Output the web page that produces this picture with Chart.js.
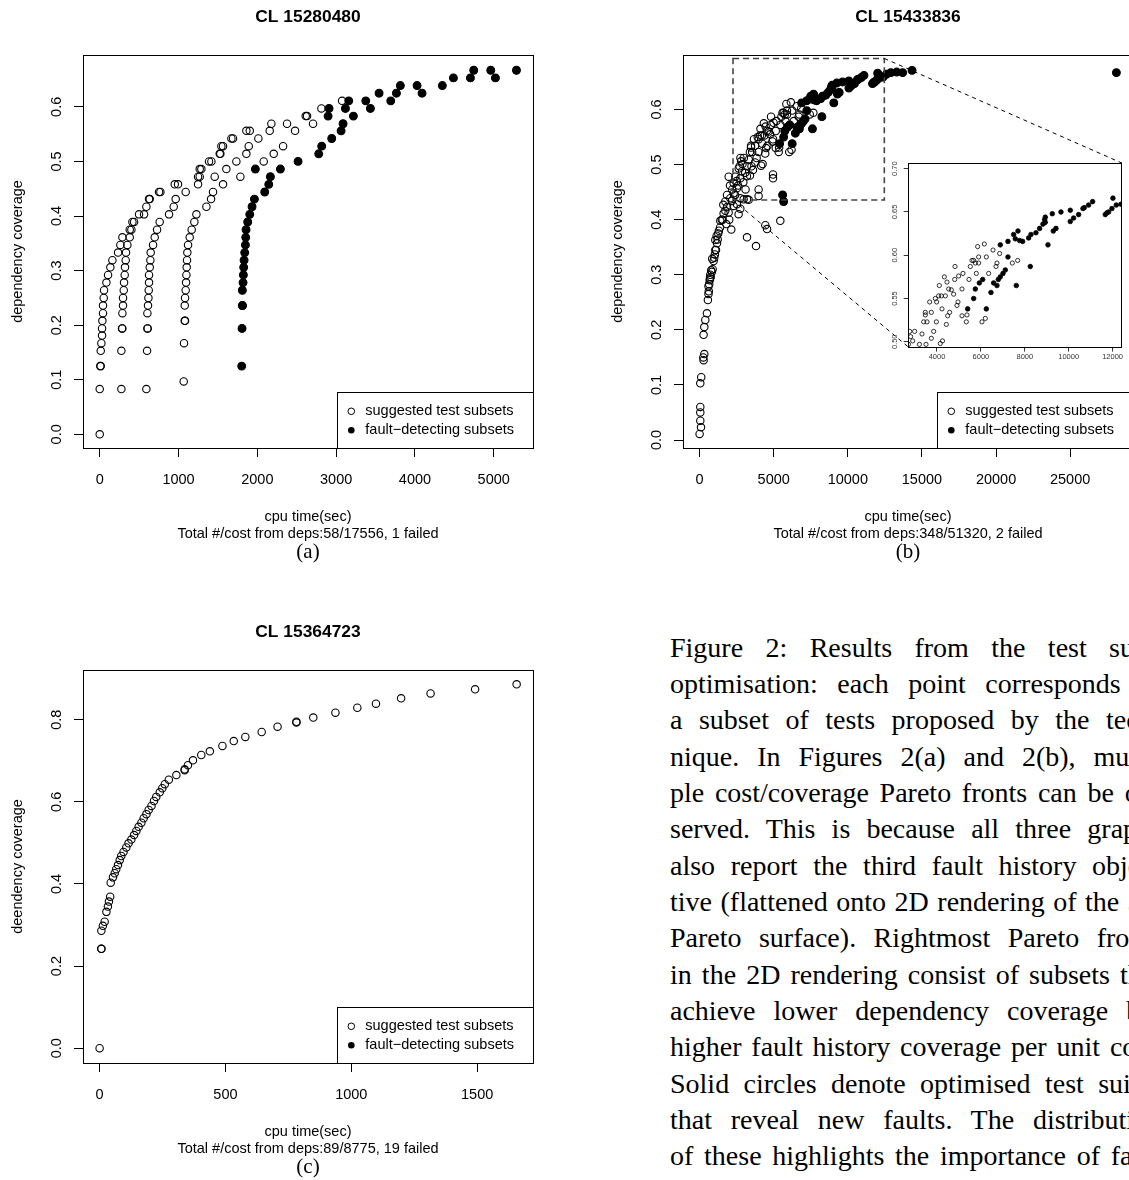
<!DOCTYPE html>
<html>
<head>
<meta charset="utf-8">
<script src="https://cdn.jsdelivr.net/npm/chart.js@4.4.1/dist/chart.umd.min.js"></script>
<style>
  html, body { margin: 0; padding: 0; background: #fff; overflow: hidden; }
  body { width: 1129px; height: 1180px; position: relative; }
  canvas { position: absolute; }
  .sub { position: absolute; font: 21px 'Liberation Serif', 'Times New Roman', serif; line-height: 21px; transform: translateX(-50%); color: #000; }
  #caption { position: absolute; left: 670px; top: 629.7px; width: 492px; font: 28px 'Liberation Serif', 'Times New Roman', serif; line-height: 36.33px; color: #000; }
  #caption div { text-align: justify; text-align-last: justify; }
</style>
</head>
<body>
<canvas id="chartA" width="545" height="546" style="left:0;top:0"></canvas>
<canvas id="chartB" width="545" height="546" style="left:600px;top:0"></canvas>
<canvas id="chartBInset" width="252" height="211" style="left:877.7px;top:157px"></canvas>
<canvas id="chartC" width="545" height="546" style="left:0;top:614.5px"></canvas>
<div class="sub" style="left:308px;top:541px">(a)</div>
<div class="sub" style="left:908px;top:541px">(b)</div>
<div class="sub" style="left:308px;top:1155.5px">(c)</div>
<div id="caption">
  <div>Figure 2: Results from the test suite</div>
  <div>optimisation: each point corresponds to</div>
  <div>a subset of tests proposed by the tech-</div>
  <div>nique. In Figures 2(a) and 2(b), multi-</div>
  <div>ple cost/coverage Pareto fronts can be ob-</div>
  <div>served. This is because all three graphs</div>
  <div>also report the third fault history objec-</div>
  <div>tive (flattened onto 2D rendering of the 3D</div>
  <div>Pareto surface). Rightmost Pareto fronts</div>
  <div>in the 2D rendering consist of subsets that</div>
  <div>achieve lower dependency coverage but</div>
  <div>higher fault history coverage per unit cost.</div>
  <div>Solid circles denote optimised test suites</div>
  <div>that reveal new faults. The distribution</div>
  <div>of these highlights the importance of fault</div>
</div>
<script>
const SANS = "'Liberation Sans', Arial, Helvetica, sans-serif";
const SERIES_LABELS = ['suggested test subsets', 'fault\u2212detecting subsets'];

// (a) CL 15280480  — [cpu time, dependency coverage]
const aOpen = [
  [0,0],[0,0.083],[275,0.083],[592,0.083],[1066,0.097],[8,0.125],[12,0.125],
  [13,0.153],[275,0.153],[601,0.153],[21,0.167],[1070,0.167],[30,0.181],
  [30,0.194],[283,0.194],[287,0.194],[605,0.194],[609,0.194],[34,0.208],[1079,0.208],[1083,0.208],
  [42,0.222],[288,0.222],[605,0.222],[42,0.236],[296,0.236],[613,0.236],[1079,0.236],
  [51,0.25],[296,0.25],[618,0.25],[1083,0.25],[55,0.264],[305,0.264],[622,0.264],[1091,0.264],
  [85,0.278],[309,0.278],[626,0.278],[1096,0.278],[106,0.292],[317,0.292],[626,0.292],[1100,0.292],
  [135,0.306],[321,0.306],[635,0.306],[1104,0.306],[161,0.319],[330,0.319],[643,0.319],[1108,0.319],
  [233,0.333],[334,0.333],[647,0.333],[1112,0.333],[262,0.347],[351,0.347],[677,0.347],[1121,0.347],
  [288,0.361],[381,0.361],[698,0.361],[1142,0.361],[381,0.375],[402,0.375],[728,0.375],[1167,0.375],
  [415,0.389],[436,0.389],[761,0.389],[1201,0.389],[499,0.403],[563,0.403],[880,0.403],[1227,0.403],
  [592,0.417],[939,0.417],[1354,0.417],[626,0.431],[635,0.431],[964,0.431],[1413,0.431],
  [753,0.444],[770,0.444],[1091,0.444],[1438,0.444],[952,0.458],[994,0.458],[1248,0.458],[1565,0.458],
  [1248,0.472],[1269,0.472],[1459,0.472],[1785,0.472],[1269,0.486],[1290,0.486],[1607,0.486],
  [1387,0.5],[1417,0.5],[1734,0.5],[2081,0.5],[1523,0.514],[1531,0.514],[1861,0.514],[2208,0.514],
  [1544,0.528],[1565,0.528],[1891,0.528],[2327,0.528],[1671,0.542],[1692,0.542],[2013,0.542],
  [1861,0.556],[1904,0.556],[2157,0.556],[2479,0.556],[2178,0.569],[2377,0.569],[2707,0.569],
  [2614,0.583],[2631,0.583],[2813,0.597],[3075,0.611]
];
const aFilled = [
  [1802,0.125],[1806,0.194],[1810,0.236],[1812,0.236],[1810,0.264],[1819,0.278],[1823,0.292],
  [1827,0.306],[1832,0.319],[1840,0.333],[1849,0.347],[1853,0.361],[1857,0.375],[1878,0.389],
  [1904,0.403],[1933,0.417],[1963,0.431],[2094,0.444],[2145,0.458],[2166,0.472],[1975,0.486],
  [2293,0.486],[2517,0.5],[2779,0.514],[2817,0.528],[2944,0.542],[3063,0.556],[3088,0.569],
  [2898,0.583],[3219,0.583],[2910,0.597],[3118,0.597],[3435,0.597],[3160,0.611],[3376,0.611],
  [3693,0.611],[3545,0.625],[3765,0.625],[4090,0.625],[3815,0.639],[4027,0.639],[4348,0.639],
  [4488,0.653],[4704,0.653],[5021,0.653],[4746,0.667],[4962,0.667],[5288,0.667]
];
const aXTicks = [0, 1000, 2000, 3000, 4000, 5000];
const aYTicks = [0, 0.1, 0.2, 0.3, 0.4, 0.5, 0.6];

// (b) CL 15433836
const bOpen = [
  [0,0.011],[94,0.023],[47,0.035],[47,0.05],[47,0.06],[47,0.103],[110,0.114],[250,0.150],[270,0.145],
  [317,0.156],[270,0.191],[317,0.205],[384,0.218],[495,0.230],[560,0.254],[600,0.265],[620,0.27],
  [600,0.279],[650,0.283],[680,0.29],[700,0.293],[720,0.300],[750,0.296],[780,0.308],[820,0.305],
  [880,0.31],[945,0.325],[990,0.331],[1030,0.337],[850,0.329],[1060,0.345],[1107,0.345],[1174,0.357],
  [1060,0.363],[1220,0.364],[1260,0.375],[1150,0.371],[1300,0.380],[1380,0.386],[1397,0.398],
  [1500,0.400],[1552,0.400],[1620,0.411],[1734,0.416],[1849,0.423],[1957,0.413],[1800,0.392],
  [2000,0.400],[2186,0.434],[2294,0.425],[2520,0.428],[2632,0.410],[2746,0.420],[3199,0.437],
  [2139,0.382],[3199,0.368],[3806,0.352],[4434,0.390],[4550,0.383],[5446,0.398],[3981,0.455],
  [3981,0.443],[4953,0.482],[4953,0.475],[1734,0.433],[2070,0.439],[2300,0.448],[2520,0.457],
  [2745,0.439],[2970,0.437],[3310,0.436],[1962,0.478],[2300,0.466],[2410,0.478],[2640,0.493],
  [2860,0.488],[3080,0.485],[3190,0.479],[2500,0.470],[2200,0.455],[1850,0.445],[2050,0.462],
  [2750,0.475],[2950,0.468],[3400,0.480],[3600,0.490],[1600,0.427],[2400,0.445],[2600,0.462],[3100,0.455],
  [2755,0.512],[2983,0.512],[2892,0.501],[3317,0.509],[3393,0.523],[3469,0.534],[3469,0.531],
  [3545,0.523],[3666,0.546],[3742,0.534],[3742,0.504],[3848,0.512],[3924,0.550],[3985,0.546],
  [4076,0.553],[3970,0.523],[4106,0.565],[4197,0.553],[4228,0.538],[4334,0.575],[4380,0.553],
  [4425,0.520],[4455,0.569],[4486,0.530],[4531,0.561],[4577,0.534],[4653,0.560],[4759,0.555],
  [4820,0.587],[4805,0.572],[4911,0.542],[4956,0.546],[4987,0.576],[5184,0.579],[5138,0.561],
  [5138,0.530],[5336,0.523],[5366,0.531],[5457,0.572],[5518,0.587],[5594,0.594],[5670,0.594],
  [5746,0.591],[5852,0.610],[5897,0.598],[5897,0.591],[5791,0.579],[6156,0.613],[6247,0.598],
  [6353,0.579],[6049,0.523],[6201,0.527],[6550,0.606],[6687,0.587],[6732,0.591],[6854,0.602],
  [7674,0.594],[7431,0.591],[3200,0.497],[3500,0.497],[4150,0.498],[4250,0.501],[2700,0.497],[2800,0.506]
];
const bFilled = [
  [5397,0.538],[5670,0.550],[5746,0.561],[5928,0.568],[6080,0.572],[6247,0.538],[6459,0.557],
  [6580,0.568],[6732,0.565],[6793,0.572],[6884,0.575],[7006,0.579],[7112,0.583],[6884,0.612],
  [7233,0.598],[7233,0.616],[7491,0.624],[7567,0.619],[7613,0.565],[7689,0.628],[7765,0.617],
  [7901,0.616],[8175,0.620],[8250,0.587],[8281,0.624],[8508,0.626],[8675,0.631],[8827,0.636],
  [8933,0.638],[8903,0.641],[8933,0.644],[9055,0.612],[9252,0.648],[9298,0.628],[9419,0.631],
  [9647,0.650],[10072,0.652],[10072,0.639],[10224,0.643],[10452,0.647],[10649,0.654],[10710,0.655],
  [10907,0.658],[11089,0.662],[11666,0.647],[11742,0.649],[11818,0.650],[11970,0.654],[12015,0.666],
  [12167,0.658],[12380,0.659],[5600,0.445],[5670,0.433],[12600,0.664],[12900,0.667],[13300,0.668],
  [13700,0.667],[14333,0.671],[28120,0.667]
];
const bXTicks = [0, 5000, 10000, 15000, 20000, 25000];
const bYTicks = [0, 0.1, 0.2, 0.3, 0.4, 0.5, 0.6];
const bInsetXTicks = [4000, 6000, 8000, 10000, 12000];
const bInsetYTicks = [0.5, 0.55, 0.6, 0.65, 0.7];
const bZoomX = [2254, 12463];
const bZoomY = [0.4356, 0.6927];

// (c) CL 15364723
const cOpen = [
  [0,0],[7,0.242],[7,0.242],[7,0.286],[13,0.298],[20,0.308],[27,0.332],[33,0.345],[37,0.357],
  [42,0.369],[44,0.403],[53,0.416],[60,0.426],[66,0.436],[73,0.446],[80,0.458],[86,0.468],[95,0.478],
  [106,0.489],[115,0.499],[126,0.508],[137,0.519],[146,0.529],[155,0.539],[166,0.549],[175,0.560],
  [186,0.570],[195,0.580],[206,0.590],[216,0.602],[225,0.612],[239,0.623],[249,0.633],[259,0.643],
  [275,0.654],[305,0.665],[338,0.677],[338,0.679],[351,0.689],[371,0.701],[404,0.714],[438,0.723],
  [488,0.736],[533,0.748],[579,0.758],[644,0.770],[707,0.783],[782,0.795],[782,0.793],[849,0.805],
  [937,0.817],[1024,0.829],[1098,0.839],[1198,0.852],[1315,0.864],[1492,0.874],[1657,0.886]
];
const cFilled = [];
const cXTicks = [0, 500, 1000, 1500];
const cYTicks = [0, 0.2, 0.4, 0.6, 0.8];

Chart.defaults.font.family = SANS;
Chart.defaults.color = '#000';

const toPts = arr => arr.map(([x, y]) => ({ x, y }));

const framePlugin = {
  id: 'rFrame',
  beforeDatasetsDraw(chart, args, opts) {
    if (!opts.fill) return;
    const { ctx, chartArea: a } = chart;
    ctx.save();
    ctx.fillStyle = '#fff';
    ctx.fillRect(a.left, a.top, a.right - a.left, a.bottom - a.top);
    ctx.restore();
  },
  afterDraw(chart, args, opts) {
    const { ctx, chartArea: a } = chart;
    ctx.save();
    ctx.strokeStyle = '#000';
    ctx.lineWidth = opts.lineWidth || 1;
    ctx.strokeRect(Math.round(a.left) + 0.5, Math.round(a.top) + 0.5,
      Math.round(a.right - a.left), Math.round(a.bottom - a.top));
    ctx.restore();
  }
};

const legendPlugin = {
  id: 'rLegend',
  afterDraw(chart) {
    const { ctx, chartArea: a } = chart;
    const w = 196.3, h = 56.3;
    const left = Math.round(a.right - w), top = Math.round(a.bottom - h);
    ctx.save();
    ctx.fillStyle = '#fff';
    ctx.fillRect(left, top, w, h);
    ctx.strokeStyle = '#000';
    ctx.lineWidth = 1;
    ctx.strokeRect(left + 0.5, top + 0.5, Math.round(a.right) - left, Math.round(a.bottom) - top);
    ctx.font = '14.5px ' + SANS;
    ctx.textBaseline = 'middle';
    chart.data.datasets.forEach((ds, i) => {
      const cy = top + 19.3 + i * 19;
      ctx.beginPath();
      ctx.arc(left + 14.3, cy, 3.3, 0, Math.PI * 2);
      ctx.fillStyle = '#000';
      if (ds.pointBackgroundColor === '#000') ctx.fill(); else ctx.stroke();
      ctx.fillText(ds.label, left + 28.3, cy);
    });
    ctx.restore();
  }
};

function scatterSets(open, filled, r, bw, clip) {
  return [
    { label: SERIES_LABELS[0], data: toPts(open), pointStyle: 'circle', pointRadius: r,
      pointBorderWidth: bw, pointBorderColor: '#000', pointBackgroundColor: 'rgba(0,0,0,0)', clip },
    { label: SERIES_LABELS[1], data: toPts(filled), pointStyle: 'circle', pointRadius: r + 0.2,
      pointBorderWidth: bw, pointBorderColor: '#000', pointBackgroundColor: '#000', clip }
  ];
}

function panel(canvasId, o) {
  const tickFont = { family: SANS, size: 14.5 };
  return new Chart(document.getElementById(canvasId), {
    type: 'scatter',
    data: { datasets: scatterSets(o.open, o.filled, 3.7, 1.1, undefined) },
    options: {
      responsive: false,
      animation: false,
      events: [],
      layout: { padding: { left: 0, right: 12, top: 0, bottom: 3.3 } },
      plugins: {
        legend: { display: false },
        tooltip: { enabled: false },
        title: {
          display: true, text: o.title, fullSize: false, color: '#000',
          font: { family: SANS, size: 17.4, weight: 'bold' },
          padding: { top: 6.6, bottom: 27.5 }
        }
      },
      scales: {
        x: {
          type: 'linear', position: 'bottom', min: o.xRange[0], max: o.xRange[1],
          afterBuildTicks: s => { s.ticks = o.xTicks.map(value => ({ value })); },
          afterFit: s => { s.height = 94.7; },
          grid: { display: true, drawOnChartArea: false, drawTicks: true, tickLength: 9, color: '#000', lineWidth: 1 },
          border: { display: false },
          ticks: { autoSkip: false, minRotation: 0, maxRotation: 0, padding: 14.3, color: '#000', font: tickFont,
            callback: v => String(v) },
          title: { display: true, text: ['cpu time(sec)', o.note], color: '#000', font: tickFont,
            padding: { top: 0, bottom: 0 } }
        },
        y: {
          type: 'linear', position: 'left', min: o.yRange[0], max: o.yRange[1],
          afterBuildTicks: s => { s.ticks = o.yTicks.map(value => ({ value })); },
          afterFit: s => { s.width = 83; },
          grid: { display: true, drawOnChartArea: false, drawTicks: true, tickLength: 9, color: '#000', lineWidth: 1 },
          border: { display: false },
          ticks: { autoSkip: false, minRotation: 90, maxRotation: 90, crossAlign: 'center', padding: 7,
            color: '#000', font: tickFont, callback: v => v.toFixed(1) },
          title: { display: true, text: o.yTitle, color: '#000', font: tickFont, padding: { top: 9.3, bottom: 0 } }
        }
      }
    },
    plugins: [framePlugin, legendPlugin].concat(o.extraPlugins || [])
  });
}

panel('chartA', {
  title: 'CL 15280480', note: 'Total #/cost from deps:58/17556, 1 failed', yTitle: 'dependency coverage',
  open: aOpen, filled: aFilled, xRange: [-212, 5498], yRange: [-0.025, 0.695], xTicks: aXTicks, yTicks: aYTicks
});

// inset of (b): same data, zoomed axes
const insetFont = { family: SANS, size: 7.5 };
const insetCanvas = document.getElementById('chartBInset');
const insetChart = new Chart(insetCanvas, {
  type: 'scatter',
  data: { datasets: scatterSets(bOpen, bFilled, 2.1, 0.8, 0) },
  options: {
    responsive: false,
    animation: false,
    events: [],
    layout: { padding: { left: 0, right: 8.7, top: 4, bottom: 0.7 } },
    plugins: { legend: { display: false }, tooltip: { enabled: false }, rFrame: { fill: true } },
    scales: {
      x: {
        type: 'linear', position: 'bottom', min: 2679, max: 12396,
        afterBuildTicks: s => { s.ticks = bInsetXTicks.map(value => ({ value })); },
        afterFit: s => { s.height = 20; },
        grid: { display: true, drawOnChartArea: false, drawTicks: true, tickLength: 4.3, color: '#000', lineWidth: 0.8 },
        border: { display: false },
        ticks: { autoSkip: false, minRotation: 0, maxRotation: 0, padding: 0.5, color: '#333', font: insetFont,
          callback: v => String(v) }
      },
      y: {
        type: 'linear', position: 'left', min: 0.4936, max: 0.7065,
        afterBuildTicks: s => { s.ticks = bInsetYTicks.map(value => ({ value })); },
        afterFit: s => { s.width = 30; },
        grid: { display: true, drawOnChartArea: false, drawTicks: true, tickLength: 4.3, color: '#000', lineWidth: 0.8 },
        border: { display: false },
        ticks: { autoSkip: false, minRotation: 90, maxRotation: 90, crossAlign: 'center', padding: 1.6,
          color: '#333', font: insetFont, callback: v => v.toFixed(2) }
      }
    }
  },
  plugins: [framePlugin]
});

const mainB = document.getElementById('chartB');
const zoomPlugin = {
  id: 'zoomBox',
  afterDatasetsDraw(chart) {
    const { ctx, scales: { x, y } } = chart;
    const x0 = x.getPixelForValue(bZoomX[0]), x1 = x.getPixelForValue(bZoomX[1]);
    const y0 = y.getPixelForValue(bZoomY[0]), y1 = y.getPixelForValue(bZoomY[1]);
    const ia = insetChart.chartArea;
    const dx = insetCanvas.offsetLeft - mainB.offsetLeft + 0.7, dy = insetCanvas.offsetTop - mainB.offsetTop;
    ctx.save();
    ctx.setLineDash([6, 4]);
    ctx.lineWidth = 1.6;
    ctx.strokeStyle = '#444';
    ctx.strokeRect(x0, y1, x1 - x0, y0 - y1);
    ctx.setLineDash([4, 4]);
    ctx.lineWidth = 1;
    ctx.strokeStyle = '#000';
    ctx.beginPath();
    ctx.moveTo(x1, y1); ctx.lineTo(ia.right + dx, ia.top + dy);
    ctx.moveTo(x0, y0); ctx.lineTo(ia.left + dx, ia.bottom + dy);
    ctx.stroke();
    ctx.restore();
  }
};

panel('chartB', {
  title: 'CL 15433836', note: 'Total #/cost from deps:348/51320, 2 failed', yTitle: 'dependency coverage',
  open: bOpen, filled: bFilled, xRange: [-1120, 29240], yRange: [-0.0145, 0.699], xTicks: bXTicks, yTicks: bYTicks,
  extraPlugins: [zoomPlugin]
});

panel('chartC', {
  title: 'CL 15364723', note: 'Total #/cost from deps:89/8775, 19 failed', yTitle: 'deendency coverage',
  open: cOpen, filled: cFilled, xRange: [-66, 1722], yRange: [-0.036, 0.921], xTicks: cXTicks, yTicks: cYTicks
});
</script>
</body>
</html>
